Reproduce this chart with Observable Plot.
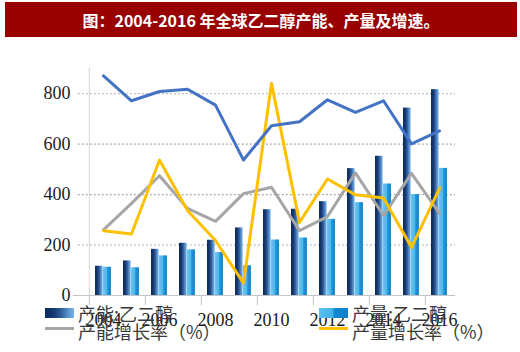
<!DOCTYPE html>
<html>
<head>
<meta charset="utf-8">
<script src="https://cdn.jsdelivr.net/npm/d3@7"></script>
<script src="https://cdn.jsdelivr.net/npm/@observablehq/plot@0.6"></script>
<style>
  html, body { margin: 0; padding: 0; background: #fff; }
  #page { position: relative; width: 520px; height: 352px; overflow: hidden; background: #fff; }
  #title { position: absolute; left: 5px; top: 2px; width: 512px; height: 35px; background: #990000;
    color: #fff; font-family: "Noto Sans CJK SC", sans-serif; font-weight: 700; font-size: 16px;
    display: flex; align-items: center; justify-content: center; letter-spacing: 0px; }
  #chart { position: absolute; left: 0; top: 40px; }
  #chart svg text { font-family: "Liberation Serif", "DejaVu Serif", serif; }
  .leg { position: absolute; font-family: "Noto Sans CJK SC", sans-serif; font-size: 18px; color: #3a3a3a;
    line-height: 18px; white-space: nowrap; }
  .sw { position: absolute; }
</style>
</head>
<body>
<div id="page">
  <div id="title">图：2004-2016 年全球乙二醇产能、产量及增速。</div>
  <div id="chart"></div>
  <div id="legend"></div>
</div>
<script>
// ---- data ----
const years = ["2004","2005","2006","2007","2008","2009","2010","2011","2012","2013","2014","2015","2016"];
const capacity   = [116, 137, 183, 207, 219, 268, 340, 342, 372, 503, 552, 743, 816];
const production = [112, 110, 157, 181, 170, 118, 220, 228, 302, 368, 442, 400, 504];
// lines read against the left axis (secondary axis not shown)
const blueLine   = [871, 772, 809, 818, 755, 537, 673, 689, 776, 726, 772, 601, 653];
const capGrowth  = [260, 365, 475, 345, 294, 404, 429, 257, 313, 486, 317, 484, 326];
const prodGrowth = [257, 244, 537, 337, 218, 49, 841, 290, 462, 399, 387, 191, 425];
const yTicks = [0, 200, 400, 600, 800];
const xTickLabels = ["2004","2006","2008","2010","2012","2014","2016"];
const seriesNames = ["产能:乙二醇", "产量:乙二醇", "产能增长率（%）", "产量增长率（%）"];

// ---- layout ----
const W = 520, H = 312, mL = 86, mR = 65, mT = 28, mB = 57;
const step = (W - mL - mR) / years.length;
const serif = "Liberation Serif, DejaVu Serif, serif";

const table = years.map((y, i) => ({
  year: y, capacity: capacity[i], production: production[i],
  blue: blueLine[i], capG: capGrowth[i], prodG: prodGrowth[i]
}));

const chart = Plot.plot({
  width: W, height: H, marginLeft: mL, marginRight: mR, marginTop: mT, marginBottom: mB,
  style: { background: "transparent", overflow: "visible", fontFamily: serif, fontSize: "18px" },
  x: { type: "band", domain: years, padding: 0 },
  y: { domain: [0, 900] },
  marks: [
    Plot.ruleY(yTicks.slice(1), { stroke: "#9a9a9a", strokeDasharray: "1.6,2.4", strokeWidth: 1.1, insetLeft: -8 }),
    Plot.ruleX([years[0]], { dx: -step / 2, y1: 0, y2: 900, stroke: "#d6d6d6", strokeWidth: 1 }),
    Plot.barY(table, { x: "year", y: "capacity", fill: "url(#gCap)", insetLeft: 6, insetRight: step - 14 }),
    Plot.barY(table, { x: "year", y: "production", fill: "url(#gProd)", insetLeft: 14, insetRight: step - 22.3 }),
    Plot.ruleY([0], { stroke: "#c4c4c4", strokeWidth: 1.2, insetLeft: -13 }),
    Plot.ruleX(xTickLabels, { x: d => d, y1: 0, y2: 0, dx: -step / 2, insetBottom: -10, stroke: "#c4c4c4" }),
    Plot.line(table, { x: "year", y: "capG", stroke: "#a6a6a6", strokeWidth: 3 }),
    Plot.line(table, { x: "year", y: "prodG", stroke: "#ffc000", strokeWidth: 3 }),
    Plot.line(table, { x: "year", y: "blue", stroke: "#4472c4", strokeWidth: 3 }),
    Plot.axisY(yTicks, { tickSize: 0, tickPadding: 16, fontSize: 18, fontFamily: serif, color: "#1a1a1a", label: null }),
    Plot.axisX(xTickLabels, { tickSize: 0, tickPadding: 18, fontSize: 18, fontFamily: serif, color: "#1a1a1a", label: null })
  ]
});

const svg = chart.tagName.toLowerCase() === "svg" ? chart : chart.querySelector("svg");
const defs = d3.select(svg).insert("defs", ":first-child");
const gCap = defs.append("linearGradient").attr("id", "gCap").attr("x1", 0).attr("x2", 1).attr("y1", 0).attr("y2", 0);
[["0%", "#0c2a62"], ["30%", "#16376f"], ["55%", "#2f5b99"], ["80%", "#5a93cf"], ["100%", "#78b4e4"]]
  .forEach(([o, c]) => gCap.append("stop").attr("offset", o).attr("stop-color", c));
const gProd = defs.append("linearGradient").attr("id", "gProd").attr("x1", 0).attr("x2", 1).attr("y1", 0).attr("y2", 0);
[["0%", "#6cc6f0"], ["45%", "#4fb6ea"], ["60%", "#1f95db"], ["100%", "#0d80c8"]]
  .forEach(([o, c]) => gProd.append("stop").attr("offset", o).attr("stop-color", c));

document.getElementById("chart").appendChild(chart);

// ---- legend (overlapping the axis labels as in the reference) ----
const legend = document.getElementById("legend");
const items = [
  { name: seriesNames[0], left: 45, top: 308, sw: "rect", bg: "linear-gradient(to right,#0c2a62 0%,#16376f 30%,#2f5b99 55%,#5a93cf 80%,#78b4e4 100%)" },
  { name: seriesNames[1], left: 319, top: 308, sw: "rect", bg: "linear-gradient(to right,#5cc0ef 0%,#43b1e8 48%,#1489d2 52%,#0d80c8 100%)" },
  { name: seriesNames[2], left: 45, top: 327, sw: "line", bg: "#a6a6a6" },
  { name: seriesNames[3], left: 319, top: 327, sw: "line", bg: "#ffc000" }
];
items.forEach(it => {
  const s = document.createElement("div");
  s.className = "sw";
  s.style.left = it.left + "px";
  s.style.width = "29px";
  s.style.top = it.top + "px";
  s.style.height = it.sw === "rect" ? "10px" : "3px";
  s.style.background = it.bg;
  legend.appendChild(s);
  const t = document.createElement("div");
  t.className = "leg";
  t.textContent = it.name;
  t.style.left = (it.left + 33) + "px";
  t.style.top = (it.sw === "rect" ? it.top - 4 : it.top - 5) + "px";
  legend.appendChild(t);
});
</script>
</body>
</html>
